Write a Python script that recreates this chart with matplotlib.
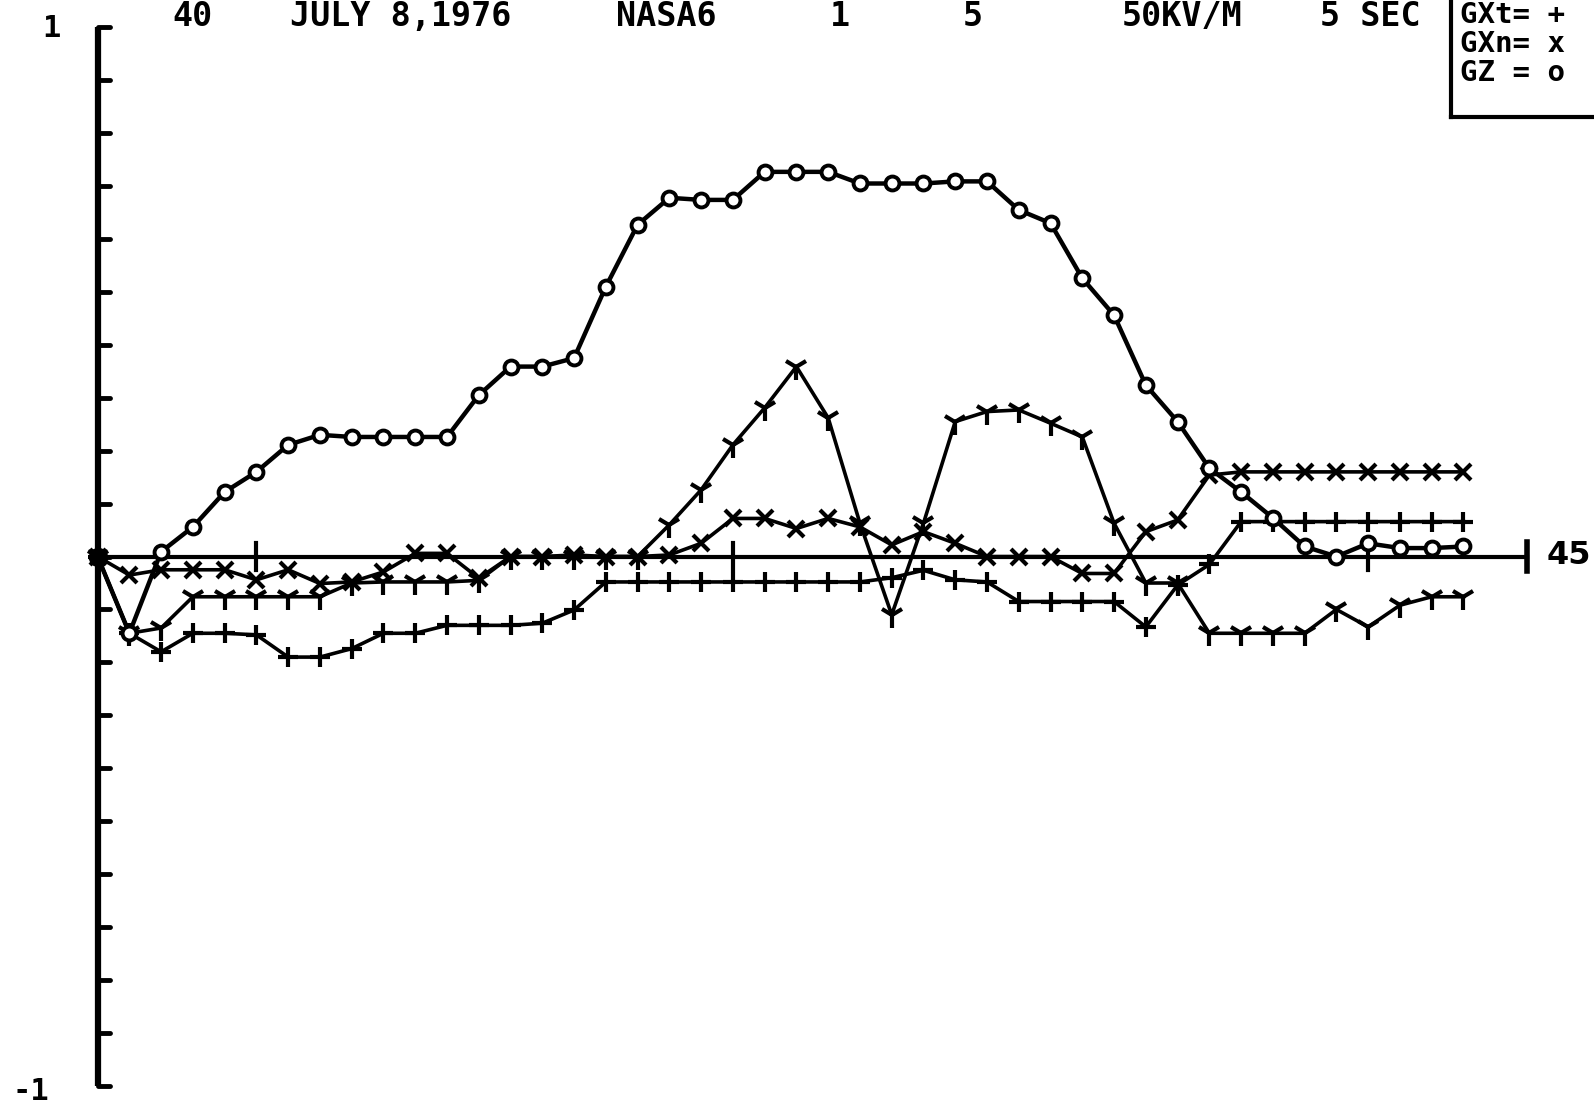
import matplotlib
matplotlib.use("Agg")
import matplotlib.pyplot as plt
from matplotlib.lines import Line2D
import numpy as np

W, H = 1594, 1104
DPI = 100

# ---------------- data ----------------
t = list(range(44))

gz = [0.0, -0.145, 0.009, 0.056, 0.122, 0.160, 0.211, 0.230, 0.226, 0.226,
      0.226, 0.226, 0.305, 0.359, 0.359, 0.375, 0.510, 0.627, 0.678, 0.674,
      0.674, 0.727, 0.727, 0.727, 0.705, 0.705, 0.705, 0.709, 0.709, 0.655,
      0.630, 0.526, 0.456, 0.324, 0.255, 0.167, 0.122, 0.073, 0.019, 0.0,
      0.025, 0.016, 0.016, 0.019]

gxn = [0.0, -0.035, -0.025, -0.025, -0.025, -0.044, -0.025, -0.051, -0.048, -0.029,
       0.006, 0.006, -0.041, 0.0, 0.0, 0.003, 0.0, 0.0, 0.003, 0.025,
       0.072, 0.072, 0.053, 0.072, 0.056, 0.022, 0.047, 0.025, 0.0, 0.0,
       0.0, -0.032, -0.032, 0.047, 0.069, 0.154, 0.160, 0.160, 0.160, 0.160,
       0.160, 0.160, 0.160, 0.160]

gxt = [0.0, -0.145, -0.180, -0.145, -0.145, -0.148, -0.190, -0.190, -0.174, -0.145,
       -0.145, -0.130, -0.130, -0.130, -0.126, -0.101, -0.048, -0.048, -0.048, -0.048,
       -0.048, -0.048, -0.048, -0.048, -0.048, -0.040, -0.026, -0.044, -0.048, -0.085,
       -0.085, -0.085, -0.085, -0.133, -0.054, -0.015, 0.066, 0.066, 0.066, 0.066,
       0.066, 0.066, 0.066, 0.066]

gy = [0.0, -0.145, -0.135, -0.076, -0.076, -0.076, -0.076, -0.076, -0.050, -0.048,
      -0.048, -0.048, -0.045, 0.0, 0.0, 0.0, 0.0, 0.0, 0.060, 0.126,
      0.211, 0.281, 0.359, 0.262, 0.063, -0.110, 0.063, 0.255, 0.274, 0.277,
      0.252, 0.226, 0.063, -0.050, -0.050, -0.145, -0.145, -0.145, -0.145, -0.100,
      -0.133, -0.092, -0.076, -0.076]

y_ticks = [round(v, 1) for v in np.arange(-1.0, 1.0001, 0.1)]
zero_ticks = [5, 20, 40]
x_end = 45

header_labels = ["40", "JULY 8,1976", "NASA6", "1", "5", "50KV/M", "5 SEC"]
header_xpix = [193, 401, 666, 840, 973, 1182, 1370]
legend_rows = ["GXt= +", "GXn= x", "GZ = o"]
legend_base_pix = [23, 52, 81]

# ---------------- figure ----------------
fig = plt.figure(figsize=(W / DPI, H / DPI), dpi=DPI)
fig.patch.set_facecolor("white")

ax_l, ax_r = 97.6, 1527.0
ax_t, ax_b = 27.4, 1085.7
ax = fig.add_axes([ax_l / W, (H - ax_b) / H, (ax_r - ax_l) / W, (ax_b - ax_t) / H])
ax.set_xlim(0, 45)
ax.set_ylim(-1, 1)
ax.axis("off")

K = "black"
# vertical axis with inward ticks
ax.plot([0, 0], [-1, 1], color=K, lw=4.5, solid_capstyle="butt", clip_on=False)
for yv in y_ticks:
    ax.plot([0, 0.4], [yv, yv], color=K, lw=3.5, solid_capstyle="round", clip_on=False)

# zero line with ticks and end bar
ax.plot([0, x_end], [0, 0], color=K, lw=3, clip_on=False)
for xv in zero_ticks:
    ax.plot([xv, xv], [-0.025, 0.025], color=K, lw=3, clip_on=False)
ax.plot([x_end, x_end], [-0.028, 0.028], color=K, lw=4, clip_on=False)

# series
ax.plot(t, gxt, color=K, lw=2.6, marker="+", ms=15, mew=3, clip_on=False)
ax.plot(t, gy, color=K, lw=2.6, marker="1", ms=18, mew=3, clip_on=False)
ax.plot(t, gxn, color=K, lw=2.6, marker="x", ms=11, mew=3, clip_on=False)
ax.plot(t, gz, color=K, lw=3.2, marker="o", ms=10, mew=2.8, mfc="white", mec=K,
        clip_on=False)
ax.plot([t[0]], [gz[0]], marker="o", ms=13, color=K, clip_on=False)

# ---------------- text ----------------
MONO = dict(family="DejaVu Sans Mono", weight="bold", color=K)


def ftext(xp, yp, s, size=25, ha="center", va="baseline"):
    fig.text(xp / W, 1 - yp / H, s, fontsize=size, ha=ha, va=va, **MONO)


for lab, xp in zip(header_labels, header_xpix):
    ftext(xp, 26, lab, size=24)

ftext(51, 37, "1", size=22)
ftext(31, 1100, "-1", size=22)
fig.text(1547 / W, 1 - 556 / H, "45", fontsize=23, ha="left", va="center",
         family="DejaVu Sans", weight="bold", color=K)

# legend box (cut by the figure edge)
fig.add_artist(Line2D([1451 / W, 1451 / W], [1.0, 1 - 117 / H], color=K, lw=3,
                      transform=fig.transFigure))
fig.add_artist(Line2D([1451 / W, 1.0], [1 - 117 / H, 1 - 117 / H], color=K, lw=3,
                      transform=fig.transFigure))
for row, yp in zip(legend_rows, legend_base_pix):
    ftext(1460, yp, row, size=21, ha="left")

fig.savefig("out.png", dpi=DPI, facecolor="white")
